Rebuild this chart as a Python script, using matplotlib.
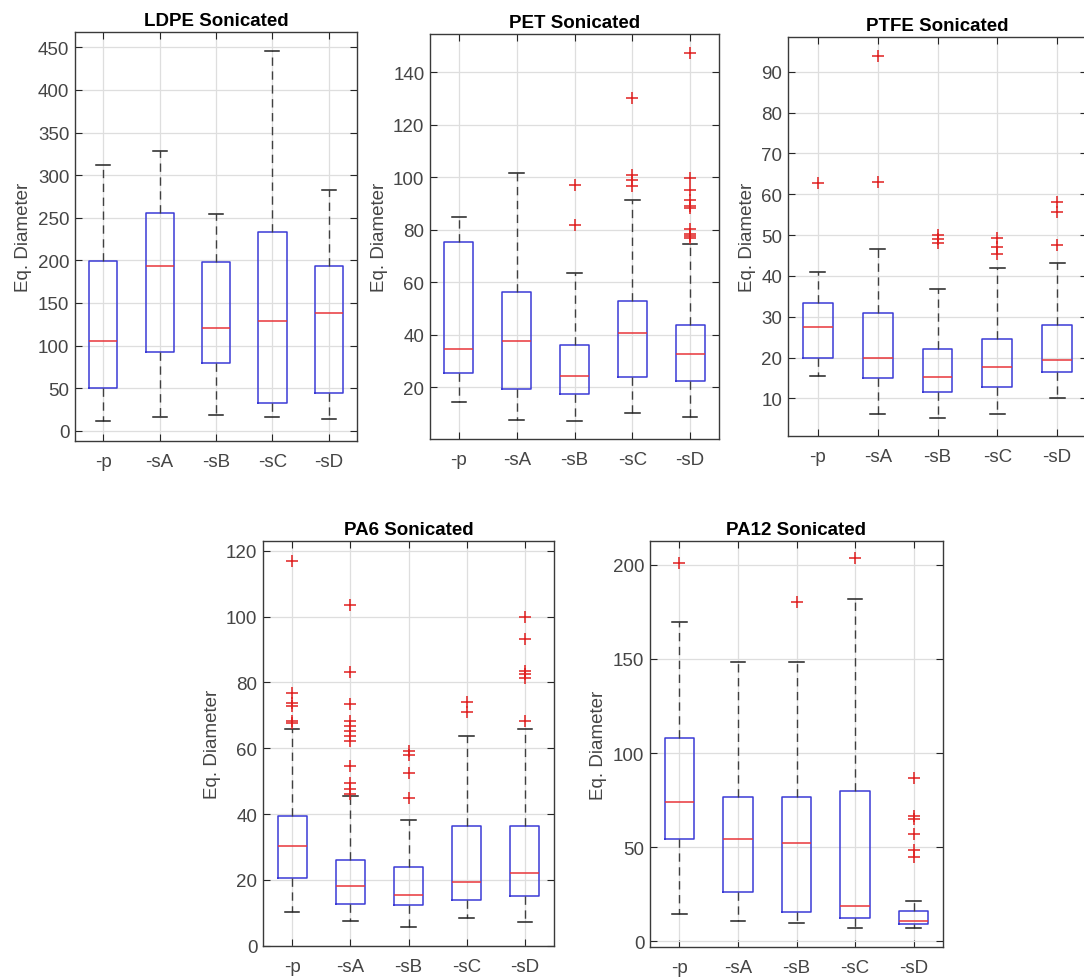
import matplotlib
matplotlib.use("Agg")
import matplotlib.pyplot as plt

plt.rcParams['font.family'] = ['Liberation Sans', 'DejaVu Sans']

categories = ['-p', '-sA', '-sB', '-sC', '-sD']

# ---------------- LDPE ----------------
ldpe_med = [105, 193, 121, 129, 138]
ldpe_q1 = [50, 93, 79, 33, 44]
ldpe_q3 = [199, 255, 198, 233, 193]
ldpe_lo = [11, 16, 18, 16, 14]
ldpe_hi = [312, 328, 254, 446, 282]
ldpe_fl = [[], [], [], [], []]

# ---------------- PET ----------------
pet_med = [34.6, 37.5, 24.4, 40.6, 32.7]
pet_q1 = [25.3, 19.4, 17.5, 24.1, 22.5]
pet_q3 = [75.2, 56.2, 36.3, 53.0, 43.7]
pet_lo = [14.5, 7.7, 7.3, 10.1, 8.6]
pet_hi = [84.8, 101.6, 63.6, 91.5, 74.7]
pet_fl = [[], [], [97.2, 81.9], [130.1, 101.0, 99.1, 96.8],
          [147.4, 99.7, 95.3, 91.4, 89.2, 88.3, 80.3, 78.4, 77.5, 76.8]]

# ---------------- PTFE ----------------
ptfe_med = [27.4, 19.9, 15.3, 17.8, 19.4]
ptfe_q1 = [19.9, 14.9, 11.5, 12.9, 16.4]
ptfe_q3 = [33.3, 31.0, 22.1, 24.5, 28.0]
ptfe_lo = [15.5, 6.1, 5.3, 6.2, 10.2]
ptfe_hi = [41.0, 46.5, 36.9, 41.9, 43.1]
ptfe_fl = [[62.7], [93.9, 62.9], [50.1, 49.0, 48.0], [49.3, 47.2, 45.3],
           [58.0, 55.7, 47.5]]

# ---------------- PA6 ----------------
pa6_med = [30.3, 18.0, 15.4, 19.4, 22.0]
pa6_q1 = [20.6, 12.7, 12.4, 14.0, 15.2]
pa6_q3 = [39.5, 26.0, 24.0, 36.5, 36.5]
pa6_lo = [10.1, 7.6, 5.6, 8.3, 7.1]
pa6_hi = [65.8, 45.5, 38.2, 63.6, 65.8]
pa6_fl = [[117.0, 76.7, 73.7, 72.7, 68.4, 67.6],
          [103.6, 83.2, 73.4, 68.4, 66.8, 65.3, 63.8, 62.3, 54.7, 49.3, 47.6, 46.1],
          [59.2, 57.9, 52.5, 44.8],
          [74.2, 70.9],
          [99.9, 93.2, 83.5, 82.5, 81.5, 68.4]]

# ---------------- PA12 ----------------
pa12_med = [74.2, 54.3, 52.2, 18.9, 10.6]
pa12_q1 = [54.3, 26.0, 15.8, 12.4, 9.2]
pa12_q3 = [108.0, 76.5, 76.8, 80.0, 16.1]
pa12_lo = [14.5, 10.6, 9.6, 6.9, 6.9]
pa12_hi = [169.4, 148.5, 148.5, 181.8, 21.2]
pa12_fl = [[200.7], [], [180.4], [203.4], [86.7, 66.4, 65.0, 57.2, 48.7, 44.6]]

W, H = 1084, 978
fig = plt.figure(figsize=(W / 100, H / 100), dpi=100)


def rect(l, r, t, b):
    return [l / W, 1 - b / H, (r - l) / W, (b - t) / H]


panels = [
    ("LDPE Sonicated", rect(75, 357, 33, 442), (-12, 468), [0, 50, 100, 150, 200, 250, 300, 350, 400, 450],
     ldpe_med, ldpe_q1, ldpe_q3, ldpe_lo, ldpe_hi, ldpe_fl),
    ("PET Sonicated", rect(430, 719, 35, 440), (0.3, 154.6), [20, 40, 60, 80, 100, 120, 140],
     pet_med, pet_q1, pet_q3, pet_lo, pet_hi, pet_fl),
    ("PTFE Sonicated", rect(788, 1087, 38, 437), (0.8, 98.5), [10, 20, 30, 40, 50, 60, 70, 80, 90],
     ptfe_med, ptfe_q1, ptfe_q3, ptfe_lo, ptfe_hi, ptfe_fl),
    ("PA6 Sonicated", rect(263, 554, 542, 947), (-0.1, 123), [0, 20, 40, 60, 80, 100, 120],
     pa6_med, pa6_q1, pa6_q3, pa6_lo, pa6_hi, pa6_fl),
    ("PA12 Sonicated", rect(650, 943, 542, 948), (-3, 212.6), [0, 50, 100, 150, 200],
     pa12_med, pa12_q1, pa12_q3, pa12_lo, pa12_hi, pa12_fl),
]

tick_col = '#454545'
for title, pos, ylim, yticks, med, q1, q3, lo, hi, fl in panels:
    ax = fig.add_axes(pos)
    stats = []
    for i in range(len(categories)):
        stats.append(dict(med=med[i], q1=q1[i], q3=q3[i], whislo=lo[i], whishi=hi[i],
                          fliers=fl[i], label=categories[i]))
    ax.bxp(stats, positions=range(1, 6), widths=0.5, capwidths=0.25,
           boxprops=dict(color='#3b3bd6', linewidth=1.1),
           medianprops=dict(color='#e8353a', linewidth=1.1),
           whiskerprops=dict(color='#404040', linewidth=1.0, linestyle=(0, (6, 4))),
           capprops=dict(color='#222222', linewidth=1.1),
           flierprops=dict(marker='+', markeredgecolor='#e02020', markersize=9,
                           markeredgewidth=1.1, linestyle='none'),
           zorder=3)
    ax.set_xlim(0.5, 5.5)
    ax.set_ylim(*ylim)
    ax.set_yticks(yticks)
    ax.set_xticks(range(1, 6))
    ax.set_xticklabels(categories)
    ax.grid(True, color='#dedede', linewidth=0.9)
    ax.set_axisbelow(True)
    ax.tick_params(direction='in', length=5, width=0.8, top=True, right=True,
                   labelsize=13.5, colors='#262626', labelcolor=tick_col)
    ax.tick_params(axis='x', pad=9)
    ax.tick_params(axis='y', pad=4)
    for s in ax.spines.values():
        s.set_color('#3a3a3a')
        s.set_linewidth(1.0)
    ax.set_title(title, fontsize=13.5, fontweight='bold', pad=5)
    ax.set_ylabel('Eq. Diameter', fontsize=13.5, color=tick_col, labelpad=4)

fig.savefig('out.png', dpi=100)
